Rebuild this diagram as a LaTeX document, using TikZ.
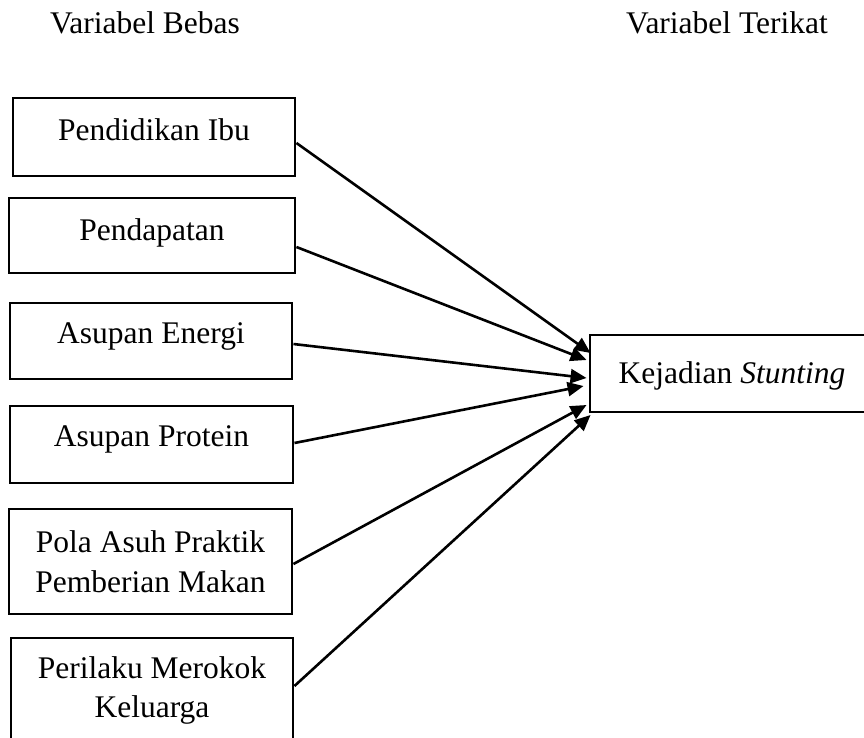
\documentclass[tikz,border=0pt]{standalone}
\usepackage{fontspec}
\setmainfont{Liberation Serif}
\usetikzlibrary{arrows.meta}
\begin{document}
\begin{tikzpicture}[x=1pt,y=-1pt,
  box/.style={draw=black,line width=2.9pt,rectangle,inner sep=0pt,fill=none},
  lbl/.style={inner sep=0pt,anchor=base,font=\fontsize{31.5}{40}\selectfont},
  conn/.style={line width=2.6pt,-{Triangle[length=16pt,width=14pt]}}]
\useasboundingbox (0,0) rectangle (864,737);
\clip (0,0) rectangle (864,737);
% headers
\node[lbl] (h1) at (145,33) {Variabel Bebas};
\node[lbl] (h2) at (727,33) {Variabel Terikat};
% boxes
\node[box,minimum width=282pt,minimum height=78pt] (b1) at (154,137) {};
\node[box,minimum width=286pt,minimum height=75pt] (b2) at (152,235.5) {};
\node[box,minimum width=282pt,minimum height=76pt] (b3) at (151,341) {};
\node[box,minimum width=283pt,minimum height=77pt] (b4) at (151.5,444.5) {};
\node[box,minimum width=283pt,minimum height=105pt] (b5) at (150.5,561.5) {};
\node[box,minimum width=282pt,minimum height=122pt] (b6) at (152,699) {};
\node[box,minimum width=284pt,minimum height=77pt] (k) at (732,373.5) {};
% texts
\node[lbl] (t1) at (154,140) {Pendidikan Ibu};
\node[lbl] (t2) at (152,240) {Pendapatan};
\node[lbl] (t3) at (151,343) {Asupan Energi};
\node[lbl] (t4) at (151.5,446) {Asupan Protein};
\node[lbl] (t5a) at (150.5,552) {Pola Asuh Praktik};
\node[lbl] (t5b) at (150.5,592) {Pemberian Makan};
\node[lbl] (t6a) at (152,678) {Perilaku Merokok};
\node[lbl] (t6b) at (152,717) {Keluarga};
\node[lbl] (tk) at (732,383) {Kejadian \textit{Stunting}};
% connector endpoints
\coordinate (s1) at (b1.east |- 0,143);
\coordinate (s2) at (b2.east |- 0,247);
\coordinate (s3) at (b3.east |- 0,344);
\coordinate (s4) at (b4.east |- 0,443);
\coordinate (s5) at (b5.east |- 0,564);
\coordinate (s6) at (b6.east |- 0,686);
\coordinate (e1) at ([xshift=2pt]k.west |- 0,353);
\coordinate (e2) at ([xshift=-2pt]k.west |- 0,360);
\coordinate (e3) at ([xshift=-2pt]k.west |- 0,378);
\coordinate (e4) at ([xshift=-5pt]k.west |- 0,386);
\coordinate (e5) at ([xshift=-2pt]k.west |- 0,405);
\coordinate (e6) at ([xshift=2pt]k.west |- 0,415);
\draw[conn] (s1) -- (e1);
\draw[conn] (s2) -- (e2);
\draw[conn] (s3) -- (e3);
\draw[conn] (s4) -- (e4);
\draw[conn] (s5) -- (e5);
\draw[conn] (s6) -- (e6);
\end{tikzpicture}
\end{document}
